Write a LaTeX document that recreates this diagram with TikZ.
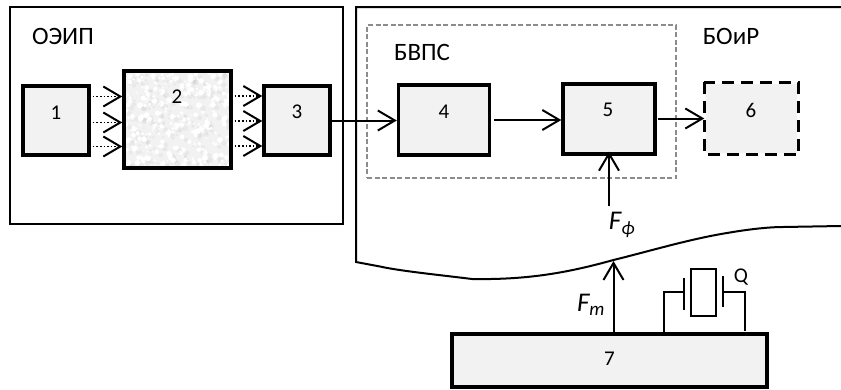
\documentclass[tikz,border=0pt]{standalone}
\usepackage{fontspec}
\setmainfont{Carlito}
\usetikzlibrary{arrows.meta}
\definecolor{boxfill}{HTML}{F2F2F2}
\tikzset{
 block/.style={draw=black,line width=3.4pt,fill=boxfill,inner sep=0pt},
 area/.style={draw=black,line width=2pt},
 title/.style={inner sep=0pt,font=\fontsize{25}{28}\selectfont},
 digit/.style={inner sep=0pt,font=\fontsize{21}{24}\selectfont},
 sym/.style={inner sep=0pt,font=\fontsize{27}{30}\selectfont\itshape},
 link/.style={line width=2pt,-{Straight Barb[length=17pt,width=20pt,line width=2pt]}},
 dotlink/.style={line width=1.6pt,dotted,-{Straight Barb[length=17pt,width=20pt,line width=2pt]}},
 wire/.style={line width=2pt},
}
\begin{document}
\begin{tikzpicture}[x=1pt,y=-1pt]
\useasboundingbox (0,0) rectangle (841,389);
% outer regions
\node[area,minimum width=333.5pt,minimum height=217pt,inner sep=0pt] (oeip) at (176.25,115.5) {};
\draw[area,line join=miter] (841,7) -- (356,7) -- (356,262) -- (380,266.5) .. controls (400,271) and (440,275) .. (472,279) .. controls (530,280) and (570,272) .. (613.5,260) .. controls (650,251) and (690,239) .. (727,233) .. controls (750,229) and (770,227) .. (783,227) -- (841,226);
\coordinate (curvept) at (613.5,261);
\node[draw=black!45,line width=1.2pt,dash pattern=on 5pt off 2.5pt,minimum width=309pt,minimum height=153pt,inner sep=0pt] (bvps) at (521.5,101.5) {};
% blocks
\node[block,minimum width=66pt,minimum height=69pt] (n1) at (56,120.5) {};
\node[block,minimum width=107pt,minimum height=97pt] (n2) at (177.5,119.5) {};
\begin{scope}
\clip (125.5,72.5) rectangle (229.5,166.5);
\pgfmathsetseed{4242}
\foreach \i in {1,...,300}{
 \pgfmathsetmacro{\xx}{125+105*rnd}
 \pgfmathsetmacro{\yy}{72+95*rnd}
 \pgfmathsetmacro{\rr}{0.8+2.2*rnd}
 \fill[white] (\xx,\yy) circle (\rr pt);
 \fill[black,opacity=0.035] (\xx+4,\yy+3) circle (\rr pt);
}
\end{scope}
\node[draw=black,line width=3.4pt,minimum width=107pt,minimum height=97pt,inner sep=0pt] (n2f) at (177.5,119.5) {};
\node[block,minimum width=66pt,minimum height=69pt] (n3) at (297,120.5) {};
\node[block,minimum width=91pt,minimum height=70pt] (n4) at (444,120) {};
\node[block,minimum width=92pt,minimum height=70pt] (n5) at (609,119) {};
\node[block,draw=none,minimum width=91pt,minimum height=69pt] (n6) at (751.5,118.5) {};
\draw[line width=3.4pt,dash pattern=on 12pt off 7pt] (n6.north west) rectangle (n6.south east);
\node[block,minimum width=315pt,minimum height=53pt] (n7) at (609.5,360.5) {};
% block numbers
\node[digit] (t1) at (56,113) {1};
\node[digit] (t2) at (177,97) {2};
\node[digit] (t3) at (297,112) {3};
\node[digit] (t4) at (444,112) {4};
\node[digit] (t5) at (608,110) {5};
\node[digit] (t6) at (751,110) {6};
\node[digit] (t7) at (609.5,359) {7};
% titles
\node[title] (lo) at (63,36) {ОЭИП};
\node[title] (lb) at (422,52) {БВПС};
\node[title] (lr) at (731,36) {БОиР};
\node[sym] (lf) at (622,225) {F\textsubscript{\fontsize{19}{20}\selectfont ф}};
\node[sym] (lm) at (591,305) {F\textsubscript{\fontsize{19}{20}\selectfont m}};
\node[digit] (lq) at (741,277) {Q};
% optical links
\foreach \a in {-26,-2,24}
 \draw[dotlink] ([yshift=\a pt]n1.east) ++(2,0) -- ([yshift=\a pt]n1.east -| n2.west);
\foreach \a in {-25.5,-0.5,24.5}
 \draw[dotlink] ([yshift=\a pt]n3.west -| n2.east) ++(2,0) -- ([yshift=\a pt]n3.west);
% links
\draw[link] (n3.east) -- (n3.east -| n4.west);
\draw[link,shorten <=3pt] (n4.east) -- (n4.east -| n5.west);
\draw[link,shorten <=1pt] ([yshift=.5pt]n5.east) -- ([yshift=.5pt]n5.east -| n6.west);
\coordinate (fstart) at (n5.south |- 0,206);
\draw[link] (fstart) -- ([yshift=4pt]n5.south);
\draw[link] (n7.north -| curvept) -- (curvept);
% quartz
\coordinate (qa) at (664,292);
\coordinate (qb) at (745,292);
\node[draw=black,line width=1.6pt,minimum width=25pt,minimum height=47pt,inner sep=0pt] (xt) at (703.5,292.5) {};
\draw[wire] (n7.north -| qa) -- (qa) -- (683.5,292);
\draw[wire] (683.5,278) -- (683.5,310);
\draw[wire] (723,276) -- (723,307);
\draw[wire] (723,292) -- (qb) -- (745,331);
\end{tikzpicture}
\end{document}
